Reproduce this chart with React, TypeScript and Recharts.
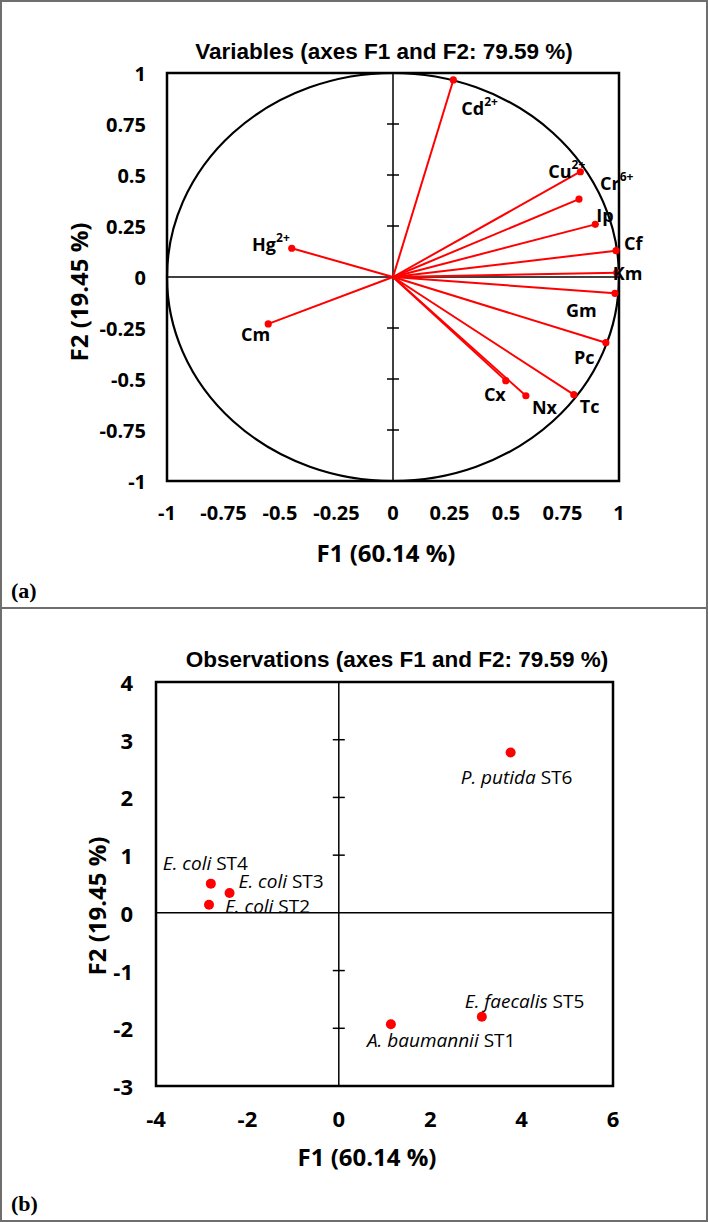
import React from 'react'
import {
  ReferenceArea,
  ReferenceDot,
  ReferenceLine,
  Scatter,
  ScatterChart,
  XAxis,
  YAxis,
} from 'recharts'

// ---- panel (a): variable loadings on F1 / F2 ----
const varNames = ['Cd', 'Cu', 'Cr', 'Ip', 'Cf', 'Km', 'Gm', 'Pc', 'Tc', 'Nx', 'Cx', 'Hg', 'Cm']
const varCharges = ['2+', '2+', '6+', '', '', '', '', '', '', '', '', '2+', '']
const varF1 = [0.267, 0.829, 0.823, 0.895, 0.987, 0.99, 0.982, 0.942, 0.8, 0.588, 0.499, -0.448, -0.552]
const varF2 = [0.966, 0.516, 0.382, 0.258, 0.129, 0.021, -0.08, -0.322, -0.577, -0.582, -0.508, 0.141, -0.23]
const varTicks = [-1, -0.75, -0.5, -0.25, 0, 0.25, 0.5, 0.75, 1]
const varCrossTicks = [-0.75, -0.5, -0.25, 0.25, 0.5, 0.75]

// ---- panel (b): observations (strains) on F1 / F2 ----
const obsSpecies = ['A. baumannii', 'E. coli', 'E. coli', 'E. coli', 'E. faecalis', 'P. putida']
const obsStrains = ['ST1', 'ST2', 'ST3', 'ST4', 'ST5', 'ST6']
const obsF1 = [1.14, -2.84, -2.39, -2.8, 3.13, 3.76]
const obsF2 = [-1.93, 0.142, 0.343, 0.506, -1.8, 2.78]
const obsXTicks = [-4, -2, 0, 2, 4, 6]
const obsYTicks = [-3, -2, -1, 0, 1, 2, 3, 4]
const obsCrossTicks = [-2, -1, 1, 2, 3]

// label placement next to each marker (anchor, dx, dy in px)
type Place = ['start' | 'end', number, number]
const varLabelPlace: Record<string, Place> = {
  Cd: ['start', 8, 28],
  Cu: ['end', 5, -1],
  Cr: ['start', 21, -16],
  Ip: ['start', 1, -9],
  Cf: ['start', 8, -8],
  Km: ['start', -4, 0],
  Gm: ['start', -49, 17],
  Pc: ['start', -32, 14],
  Tc: ['start', 6, 11],
  Nx: ['start', 6, 11],
  Cx: ['end', 0, 13],
  Hg: ['end', -2, -4],
  Cm: ['end', 2, 10],
}
const obsLabelPlace: Record<string, Place> = {
  ST1: ['start', -24, 16],
  ST2: ['start', 16, 1],
  ST3: ['start', 9, -12],
  ST4: ['start', -48, -21],
  ST5: ['start', -17, -16],
  ST6: ['start', -50, 25],
}

const SANS = "'Open Sans', sans-serif"
const ARIAL = "'Liberation Sans', Arial, sans-serif"
const RED = '#ff0000'

const varData = varNames.map((name, i) => ({
  name,
  charge: varCharges[i],
  f1: varF1[i],
  f2: varF2[i],
}))
const obsData = obsStrains.map((strain, i) => ({
  strain,
  species: obsSpecies[i],
  f1: obsF1[i],
  f2: obsF2[i],
}))

const xTick = (size: number, off: number) => (p: any) => (
  <text
    x={p.x}
    y={p.y + off}
    textAnchor="middle"
    dominantBaseline="central"
    fontFamily={SANS}
    fontWeight="bold"
    fontSize={size}
    fill="#000"
  >
    {String(p.payload.value)}
  </text>
)

const yTick = (size: number, off: number) => (p: any) => (
  <text
    x={p.x - off}
    y={p.y}
    textAnchor="end"
    dominantBaseline="central"
    fontFamily={SANS}
    fontWeight="bold"
    fontSize={size}
    fill="#000"
  >
    {String(p.payload.value)}
  </text>
)

const crossTick = (p: any) => (
  <line x1={p.cx - 6} x2={p.cx + 6} y1={p.cy} y2={p.cy} stroke="#000" strokeWidth={1.5} />
)

const ellipse = (p: any) => (
  <ellipse
    cx={p.x + p.width / 2}
    cy={p.y + p.height / 2}
    rx={p.width / 2}
    ry={p.height / 2}
    fill="none"
    stroke="#000"
    strokeWidth={2.2}
  />
)

const VarPoint = (p: any) => {
  const { cx, cy, payload } = p
  const [anchor, dx, dy] = varLabelPlace[payload.name]
  return (
    <g>
      <circle cx={cx} cy={cy} r={3.6} fill={RED} />
      <text
        x={cx + dx}
        y={cy + dy}
        textAnchor={anchor}
        dominantBaseline="central"
        fontFamily={SANS}
        fontWeight="bold"
        fontSize={18}
        fill="#000"
      >
        {payload.name}
        {payload.charge && (
          <tspan dy={-7} fontSize={12}>
            {payload.charge}
          </tspan>
        )}
      </text>
    </g>
  )
}

const ObsPoint = (p: any) => {
  const { cx, cy, payload } = p
  const [anchor, dx, dy] = obsLabelPlace[payload.strain]
  return (
    <g>
      <circle cx={cx} cy={cy} r={5} fill={RED} />
      <text
        x={cx + dx}
        y={cy + dy}
        textAnchor={anchor}
        dominantBaseline="central"
        fontFamily={SANS}
        fontSize={19}
        fill="#000"
      >
        <tspan fontStyle="italic">{payload.species}</tspan> {payload.strain}
      </text>
    </g>
  )
}

const abs = (left: number, top: number, extra: React.CSSProperties = {}): React.CSSProperties => ({
  position: 'absolute',
  left,
  top,
  transform: 'translate(-50%, -50%)',
  whiteSpace: 'nowrap',
  lineHeight: 1,
  color: '#000',
  ...extra,
})

export default function App() {
  return (
    <div
      style={{
        position: 'absolute',
        left: 0,
        top: 0,
        width: 708,
        height: 1222,
        background: '#fff',
        overflow: 'hidden',
      }}
    >
      {/* panel (a) */}
      <div style={{ position: 'absolute', left: 0, top: 0 }}>
        <ScatterChart width={708} height={608} margin={{ top: 73, right: 89, bottom: 87, left: 107 }}>
          <XAxis
            type="number"
            dataKey="f1"
            domain={[-1, 1]}
            ticks={varTicks}
            axisLine={false}
            tickLine={false}
            tickSize={0}
            tickMargin={0}
            height={40}
            tick={xTick(20, 31)}
          />
          <YAxis
            type="number"
            dataKey="f2"
            domain={[-1, 1]}
            ticks={varTicks}
            axisLine={false}
            tickLine={false}
            tickSize={0}
            tickMargin={0}
            width={60}
            tick={yTick(20, 21)}
          />
          <ReferenceArea x1={-1} x2={1} y1={-1} y2={1} fill="none" stroke="none" shape={ellipse} />
          <ReferenceLine x={0} stroke="#000" strokeWidth={1.5} />
          <ReferenceLine y={0} stroke="#000" strokeWidth={1.5} />
          {varCrossTicks.map((t) => (
            <ReferenceDot key={t} x={0} y={t} r={0} shape={crossTick} />
          ))}
          {varData.map((d) => (
            <ReferenceLine
              key={d.name}
              segment={[
                { x: 0, y: 0 },
                { x: d.f1, y: d.f2 },
              ]}
              stroke={RED}
              strokeWidth={2}
            />
          ))}
          <ReferenceArea x1={-1} x2={1} y1={-1} y2={1} fill="none" stroke="#000" strokeWidth={2.5} fillOpacity={0} />
          <Scatter data={varData} shape={VarPoint} isAnimationActive={false} />
        </ScatterChart>
      </div>

      {/* panel (b) */}
      <div style={{ position: 'absolute', left: 0, top: 608 }}>
        <ScatterChart width={708} height={614} margin={{ top: 74, right: 95, bottom: 96, left: 96 }}>
          <XAxis
            type="number"
            dataKey="f1"
            domain={[-4, 6]}
            ticks={obsXTicks}
            axisLine={false}
            tickLine={false}
            tickSize={0}
            tickMargin={0}
            height={40}
            tick={xTick(22, 32)}
          />
          <YAxis
            type="number"
            dataKey="f2"
            domain={[-3, 4]}
            ticks={obsYTicks}
            axisLine={false}
            tickLine={false}
            tickSize={0}
            tickMargin={0}
            width={60}
            tick={yTick(22, 23)}
          />
          <ReferenceLine x={0} stroke="#000" strokeWidth={1.5} />
          <ReferenceLine y={0} stroke="#000" strokeWidth={1.5} />
          {obsCrossTicks.map((t) => (
            <ReferenceDot key={t} x={0} y={t} r={0} shape={crossTick} />
          ))}
          <ReferenceArea x1={-4} x2={6} y1={-3} y2={4} fill="none" stroke="#000" strokeWidth={2.5} fillOpacity={0} />
          <Scatter data={obsData} shape={ObsPoint} isAnimationActive={false} />
        </ScatterChart>
      </div>

      {/* titles */}
      <div style={abs(384, 52, { fontFamily: ARIAL, fontWeight: 'bold', fontSize: 22.5 })}>
        Variables (axes F1 and F2: 79.59 %)
      </div>
      <div style={abs(386, 553, { fontFamily: SANS, fontWeight: 'bold', fontSize: 24 })}>F1 (60.14 %)</div>
      <div style={abs(79, 292, { fontFamily: SANS, fontWeight: 'bold', fontSize: 24, transform: 'translate(-50%, -50%) rotate(-90deg)' })}>
        F2 (19.45 %)
      </div>
      <div style={{ position: 'absolute', left: 11, top: 580, fontFamily: "'Liberation Serif', serif", fontWeight: 'bold', fontSize: 22, lineHeight: 1 }}>
        (a)
      </div>

      <div style={abs(397, 660, { fontFamily: ARIAL, fontWeight: 'bold', fontSize: 22.5 })}>
        Observations (axes F1 and F2: 79.59 %)
      </div>
      <div style={abs(367, 1157, { fontFamily: SANS, fontWeight: 'bold', fontSize: 24 })}>F1 (60.14 %)</div>
      <div style={abs(97, 906, { fontFamily: SANS, fontWeight: 'bold', fontSize: 24, transform: 'translate(-50%, -50%) rotate(-90deg)' })}>
        F2 (19.45 %)
      </div>
      <div style={{ position: 'absolute', left: 11, top: 1193, fontFamily: "'Liberation Serif', serif", fontWeight: 'bold', fontSize: 22, lineHeight: 1 }}>
        (b)
      </div>

      {/* panel frames */}
      <div style={{ position: 'absolute', left: 0, top: 0, width: 708, height: 609, boxSizing: 'border-box', border: '2px solid #6e6e6e' }} />
      <div style={{ position: 'absolute', left: 0, top: 607, width: 708, height: 615, boxSizing: 'border-box', border: '2px solid #6e6e6e' }} />
    </div>
  )
}
